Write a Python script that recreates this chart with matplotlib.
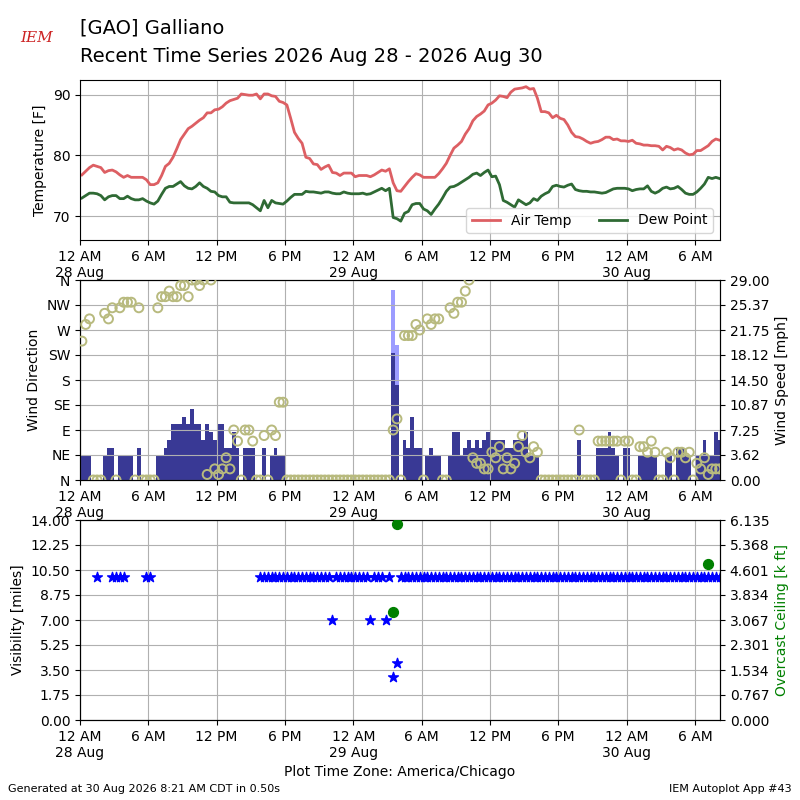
import datetime

import numpy as np
import matplotlib
matplotlib.use("Agg")
import matplotlib.pyplot as plt
import matplotlib.dates as mdates
from matplotlib.ticker import FuncFormatter

# Observations every 20 minutes, starting 28 Aug 00:10 local time
start = datetime.datetime(2026, 8, 28, 0, 10)
nobs = 169
valid = [start + datetime.timedelta(minutes=20 * i) for i in range(nobs)]

tmpf = [
    76.8, 77.4, 78.0, 78.4, 78.2, 78.0, 77.2, 77.5, 77.6, 77.3,
    76.8, 76.4, 76.7, 76.4, 76.4, 76.4, 76.4, 76.0, 75.2, 75.2,
    75.5, 76.7, 78.2, 78.7, 79.7, 81.1, 82.6, 83.5, 84.4, 84.8,
    85.3, 85.8, 86.2, 87.0, 87.0, 87.5, 87.6, 88.0, 88.6, 89.0,
    89.2, 89.4, 90.1, 90.0, 89.9, 89.9, 90.1, 89.3, 90.1, 90.1,
    89.8, 89.7, 88.9, 88.7, 88.3, 86.1, 83.8, 82.8, 82.0, 79.7,
    79.5, 78.6, 78.5, 77.7, 78.1, 78.4, 77.2, 77.1, 76.7, 77.1,
    77.1, 77.1, 76.5, 76.7, 76.7, 76.7, 76.5, 76.8, 77.2, 77.6,
    77.4, 77.8, 75.5, 74.2, 74.1, 74.9, 75.7, 76.4, 77.0, 76.8,
    76.4, 76.4, 76.4, 76.4, 77.0, 77.8, 78.7, 80.0, 81.2, 81.7,
    82.3, 83.5, 84.4, 85.7, 86.4, 86.8, 87.3, 88.3, 88.6, 89.1,
    89.8, 89.7, 89.5, 90.4, 90.9, 91.0, 91.1, 91.3, 90.9, 91.0,
    89.4, 87.2, 87.2, 87.0, 86.2, 86.6, 86.1, 85.9, 85.0, 83.8,
    83.1, 83.0, 82.7, 82.3, 82.0, 82.2, 82.3, 82.6, 83.0, 83.0,
    82.6, 82.7, 82.4, 82.4, 82.3, 82.5, 82.0, 81.9, 81.7, 81.7,
    81.6, 81.6, 81.5, 80.9, 81.5, 81.3, 80.9, 81.1, 80.9, 80.4,
    80.1, 80.2, 80.8, 80.8, 81.2, 81.6, 82.3, 82.7, 82.5,
]

dwpf = [
    73.0, 73.4, 73.8, 73.8, 73.7, 73.4, 72.7, 73.2, 73.4, 73.4,
    72.9, 72.9, 73.3, 72.9, 72.7, 72.7, 72.9, 72.5, 72.2, 72.0,
    72.5, 73.6, 74.6, 74.9, 74.9, 75.3, 75.7, 75.0, 74.6, 74.5,
    74.9, 75.5, 74.9, 74.6, 74.1, 74.0, 73.4, 73.2, 73.2, 72.3,
    72.2, 72.2, 72.2, 72.2, 72.2, 71.9, 71.4, 70.9, 72.6, 71.4,
    72.6, 72.2, 72.1, 72.0, 72.5, 73.1, 73.6, 73.6, 73.6, 74.1,
    74.0, 74.0, 73.9, 73.8, 74.0, 74.0, 73.8, 73.7, 73.7, 74.0,
    73.8, 73.7, 73.7, 73.7, 73.8, 73.6, 73.7, 74.0, 74.3, 74.6,
    74.2, 74.6, 69.8, 69.6, 69.2, 70.5, 70.8, 71.9, 72.1, 72.1,
    71.2, 70.9, 70.3, 71.2, 72.0, 73.0, 74.1, 74.8, 74.9, 75.2,
    75.6, 76.0, 76.4, 76.9, 77.1, 76.7, 77.2, 77.6, 76.5, 76.6,
    75.2, 72.6, 72.3, 71.9, 71.5, 72.7, 72.3, 71.9, 72.2, 72.9,
    72.6, 73.3, 73.7, 74.0, 74.9, 75.1, 74.9, 74.8, 75.1, 75.3,
    74.4, 74.2, 74.1, 74.1, 74.0, 74.0, 73.9, 73.8, 73.9, 74.2,
    74.5, 74.6, 74.6, 74.6, 74.5, 74.2, 74.4, 74.5, 74.5, 75.0,
    74.1, 73.8, 74.1, 74.6, 74.8, 74.5, 74.6, 74.9, 74.4, 73.8,
    73.6, 73.6, 74.0, 74.6, 75.3, 76.4, 76.2, 76.4, 76.2,
]

# wind speed [mph]
sped = [
    3.45, 3.45, 3.45, 0, 0, 0, 3.45, 4.6, 4.6, 0,
    3.45, 3.45, 3.45, 3.45, 0, 4.6, 0, 0, 0, 0,
    3.45, 3.45, 4.6, 5.75, 8.05, 8.05, 8.05, 9.2, 8.05, 10.35,
    8.05, 8.05, 5.75, 8.05, 6.9, 5.75, 8.05, 8.05, 4.6, 4.6,
    6.9, 4.6, 0, 4.6, 4.6, 4.6, 0, 0, 4.6, 0,
    3.45, 4.6, 3.45, 3.45, 0, 0, 0, 0, 0, 0,
    0, 0, 0, 0, 0, 0, 0, 0, 0, 0,
    0, 0, 0, 0, 0, 0, 0, 0, 0, 0,
    0, 0, 18.4, 13.8, 0, 5.75, 4.6, 9.2, 4.6, 4.6,
    0, 3.45, 4.6, 3.45, 3.45, 0, 0, 3.45, 6.9, 6.9,
    3.45, 4.6, 5.75, 4.6, 5.75, 4.6, 5.75, 6.9, 5.75, 5.75,
    5.75, 5.75, 4.6, 4.6, 5.75, 5.75, 5.75, 6.9, 3.45, 3.45,
    3.45, 0, 0, 0, 0, 0, 0, 0, 0, 0,
    0, 5.75, 0, 0, 0, 0, 4.6, 4.6, 4.6, 6.9,
    4.6, 3.45, 0, 4.6, 4.6, 0, 0, 3.45, 3.45, 3.45,
    3.45, 3.45, 0, 0, 3.45, 3.45, 0, 4.6, 4.6, 3.45,
    3.45, 0, 3.45, 3.45, 5.75, 3.45, 3.45, 6.9, 5.75,
]

# wind gust [mph], only reported during the morning storm
gust = [np.nan] * nobs
gust[82] = 27.6
gust[83] = 19.6

# wind direction [deg], 0 when calm
drct = [
    250, 280, 290, 0, 0, 0, 300, 290, 310, 0,
    310, 320, 320, 320, 0, 310, 0, 0, 0, 0,
    310, 330, 330, 340, 330, 330, 350, 350, 330, 360,
    360, 350, 360, 10, 360, 20, 10, 20, 40, 20,
    90, 70, 0, 90, 90, 70, 0, 0, 80, 0,
    90, 80, 140, 140, 0, 0, 0, 0, 0, 0,
    0, 0, 0, 0, 0, 0, 0, 0, 0, 0,
    0, 0, 0, 0, 0, 0, 0, 0, 0, 0,
    0, 0, 90, 110, 0, 260, 260, 260, 280, 270,
    0, 290, 280, 290, 290, 0, 0, 310, 300, 320,
    320, 340, 360, 40, 30, 30, 20, 20, 50, 40,
    60, 20, 40, 20, 30, 60, 80, 50, 40, 60,
    50, 0, 0, 0, 0, 0, 0, 0, 0, 0,
    0, 90, 0, 0, 0, 0, 70, 70, 70, 70,
    70, 70, 0, 70, 70, 0, 0, 60, 60, 50,
    70, 50, 0, 0, 50, 40, 0, 50, 50, 40,
    50, 0, 30, 20, 40, 10, 20, 20, 20,
]

nan = np.nan
# visibility [miles]
vsby = [
    nan, nan, nan, nan, 10, nan, nan, nan, 10, 10,
    10, 10, nan, nan, nan, nan, nan, 10, 10, nan,
    nan, nan, nan, nan, nan, nan, nan, nan, nan, nan,
    nan, nan, nan, nan, nan, nan, nan, nan, nan, nan,
    nan, nan, nan, nan, nan, nan, nan, 10, 10, 10,
    10, 10, 10, 10, 10, 10, 10, 10, 10, 10,
    10, 10, 10, 10, 10, 10, 7, 10, 10, 10,
    10, 10, 10, 10, 10, 10, 7, 10, 10, 10,
    7, 10, 3, 4, 10, 10, 10, 10, 10, 10,
    10, 10, 10, 10, 10, 10, 10, 10, 10, 10,
    10, 10, 10, 10, 10, 10, 10, 10, 10, 10,
    10, 10, 10, 10, 10, 10, 10, 10, 10, 10,
    10, 10, 10, 10, 10, 10, 10, 10, 10, 10,
    10, 10, 10, 10, 10, 10, 10, 10, 10, 10,
    10, 10, 10, 10, 10, 10, 10, 10, 10, 10,
    10, 10, 10, 10, 10, 10, 10, 10, 10, 10,
    10, 10, 10, 10, 10, 10, 10, 10, 10,
]

# overcast ceiling [k ft]
ceil = [nan] * nobs
ceil[82] = 3.3
ceil[83] = 6.0
ceil[165] = 4.8

dir_labels = ["N", "NE", "E", "SE", "S", "SW", "W", "NW", "N"]
speed_labels = ["0.00", "3.62", "7.25", "10.87", "14.50", "18.12",
                "21.75", "25.37", "29.00"]
vis_labels = ["0.00", "1.75", "3.50", "5.25", "7.00", "8.75",
              "10.50", "12.25", "14.00"]
ceil_labels = ["0.000", "0.767", "1.534", "2.301", "3.067", "3.834",
               "4.601", "5.368", "6.135"]

x0 = datetime.datetime(2026, 8, 28, 0, 0)
x1 = datetime.datetime(2026, 8, 30, 8, 12)


def fmt_time(x, pos=None):
  dt = mdates.num2date(x)
  hr = dt.hour % 12
  if hr == 0:
    hr = 12
  ampm = "AM" if dt.hour < 12 else "PM"
  label = "%s %s" % (hr, ampm)
  if dt.hour == 0:
    label += "\n%s" % dt.strftime("%-d %b")
  return label


def setup_xaxis(ax):
  ax.set_xlim(x0, x1)
  ax.xaxis.set_major_locator(mdates.HourLocator(byhour=[0, 6, 12, 18]))
  ax.xaxis.set_major_formatter(FuncFormatter(fmt_time))
  ax.grid(True)


fig = plt.figure(figsize=(8, 8), dpi=100)

# Title and logo text
fig.text(0.1, 1 - 28 / 800.0, "[GAO] Galliano", fontsize=14, va="center")
fig.text(0.1, 1 - 56 / 800.0,
         "Recent Time Series 2026 Aug 28 - 2026 Aug 30",
         fontsize=14, va="center")
fig.text(0.046, 1 - 38 / 800.0, "IEM", fontsize=11, color="#cc2222",
         family="serif", style="italic", ha="center", va="center")

# Temperature panel
ax1 = fig.add_axes([0.1, 0.7, 0.8, 0.2])
ax1.plot(valid, tmpf, color="#dd5f63", lw=2, label="Air Temp")
ax1.plot(valid, dwpf, color="#2f6a34", lw=2, label="Dew Point")
ax1.set_ylim(66.1, 92.4)
ax1.set_yticks([70, 80, 90])
ax1.set_ylabel("Temperature [F]")
setup_xaxis(ax1)
ax1.legend(loc="lower right", ncol=2)

# Wind panel
ax2 = fig.add_axes([0.1, 0.4, 0.8, 0.25])
ax2b = ax2.twinx()
ax2b.bar(valid, gust, width=1 / 72.0, color="#9c9cff")
ax2b.bar(valid, sped, width=1 / 72.0, color="#393995")
ax2b.set_ylim(0, 29)
ax2b.set_yticks(np.linspace(0, 29, 9))
ax2b.set_yticklabels(speed_labels)
ax2b.set_ylabel("Wind Speed [mph]")
ax2.set_zorder(ax2b.get_zorder() + 1)
ax2.patch.set_visible(False)
ax2.scatter(valid, drct, s=42, facecolors="none", edgecolors="#b8ba7e",
            linewidths=1.4, zorder=3)
ax2.set_ylim(0, 360)
ax2.set_yticks(np.arange(0, 361, 45))
ax2.set_yticklabels(dir_labels)
ax2.set_ylabel("Wind Direction")
setup_xaxis(ax2)

# Visibility / ceiling panel
ax3 = fig.add_axes([0.1, 0.1, 0.8, 0.25])
ax3.scatter(valid, vsby, marker="*", s=55, color="blue", zorder=3)
ax3.set_ylim(0, 14)
ax3.set_yticks(np.linspace(0, 14, 9))
ax3.set_yticklabels(vis_labels)
ax3.set_ylabel("Visibility [miles]")
setup_xaxis(ax3)
ax3.set_xlabel("Plot Time Zone: America/Chicago")
ax3b = ax3.twinx()
ax3b.scatter(valid, ceil, s=50, color="green", zorder=3)
ax3b.set_ylim(0, 6.135)
ax3b.set_yticks(np.linspace(0, 6.135, 9))
ax3b.set_yticklabels(ceil_labels)
ax3b.set_ylabel("Overcast Ceiling [k ft]", color="green")
ax3b.set_xlim(x0, x1)

fig.text(0.01, 0.01, "Generated at 30 Aug 2026 8:21 AM CDT in 0.50s",
         fontsize=8)
fig.text(0.99, 0.01, "IEM Autoplot App #43", fontsize=8, ha="right")

fig.savefig("out.png", dpi=100)
